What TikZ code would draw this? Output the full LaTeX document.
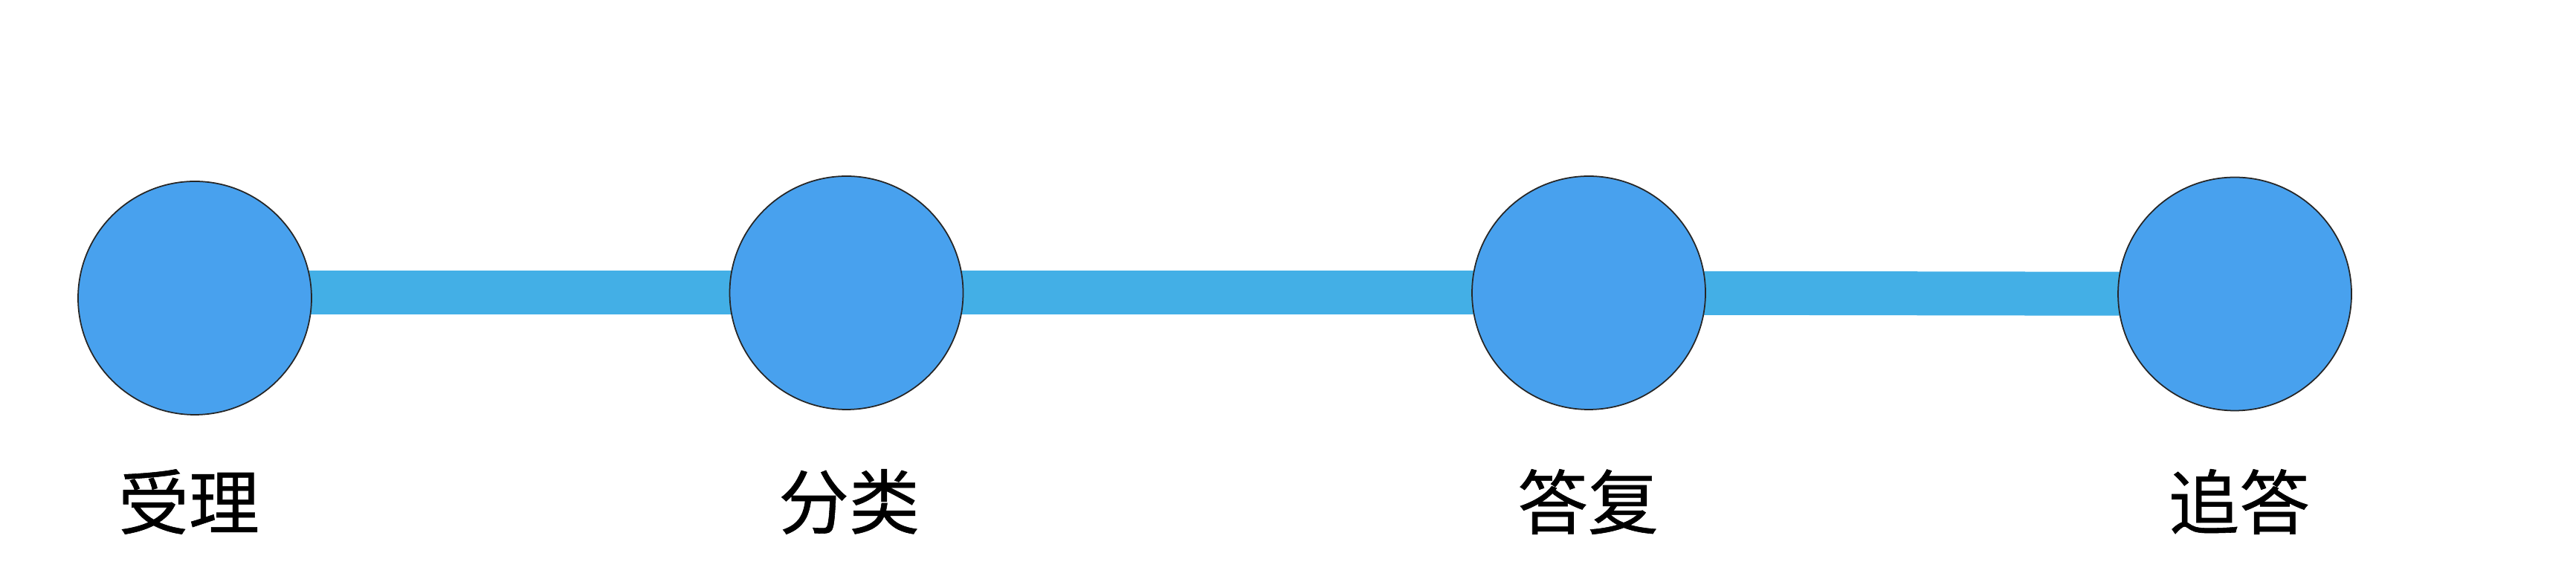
\documentclass[tikz,border=0pt]{standalone}
\usepackage{fontspec}
\setmainfont{Noto Sans CJK SC}[FakeBold=0.6]
\usetikzlibrary{positioning,backgrounds}
\definecolor{stepblue}{RGB}{72,161,238}
\definecolor{barblue}{RGB}{67,175,230}

\tikzset{
  stage/.style={circle,draw=black!85,line width=0.5pt,fill=stepblue,minimum size=3.14cm,inner sep=0pt},
  stagelabel/.style={font=\fontsize{27}{30}\selectfont,inner sep=0pt},
  barline/.style={barblue,line width=0.59cm,line cap=butt}
}

\begin{document}
\begin{tikzpicture}
  \useasboundingbox (0,0) rectangle (34.65,7.83);
  \node[stage] (accept) at (2.62,3.82) {};
  \node[stage] (sort) at (11.385,3.89) {};
  \node[stage] (reply) at (21.37,3.89) {};
  \node[stage] (follow) at (30.06,3.875) {};
  \begin{scope}[on background layer]
    \draw[barline] (accept.center |- sort.center) -- (sort.center);
    \draw[barline] (sort.center) -- (reply.center);
    \draw[barline] (reply.center) -- (follow.center);
  \end{scope}
  \node[stagelabel] (acceptlbl) at (2.54,1.08) {受理};
  \node[stagelabel] (sortlbl) at (11.42,1.08) {分类};
  \node[stagelabel] (replylbl) at (21.36,1.08) {答复};
  \node[stagelabel] (followlbl) at (30.12,1.08) {追答};
\end{tikzpicture}
\end{document}
